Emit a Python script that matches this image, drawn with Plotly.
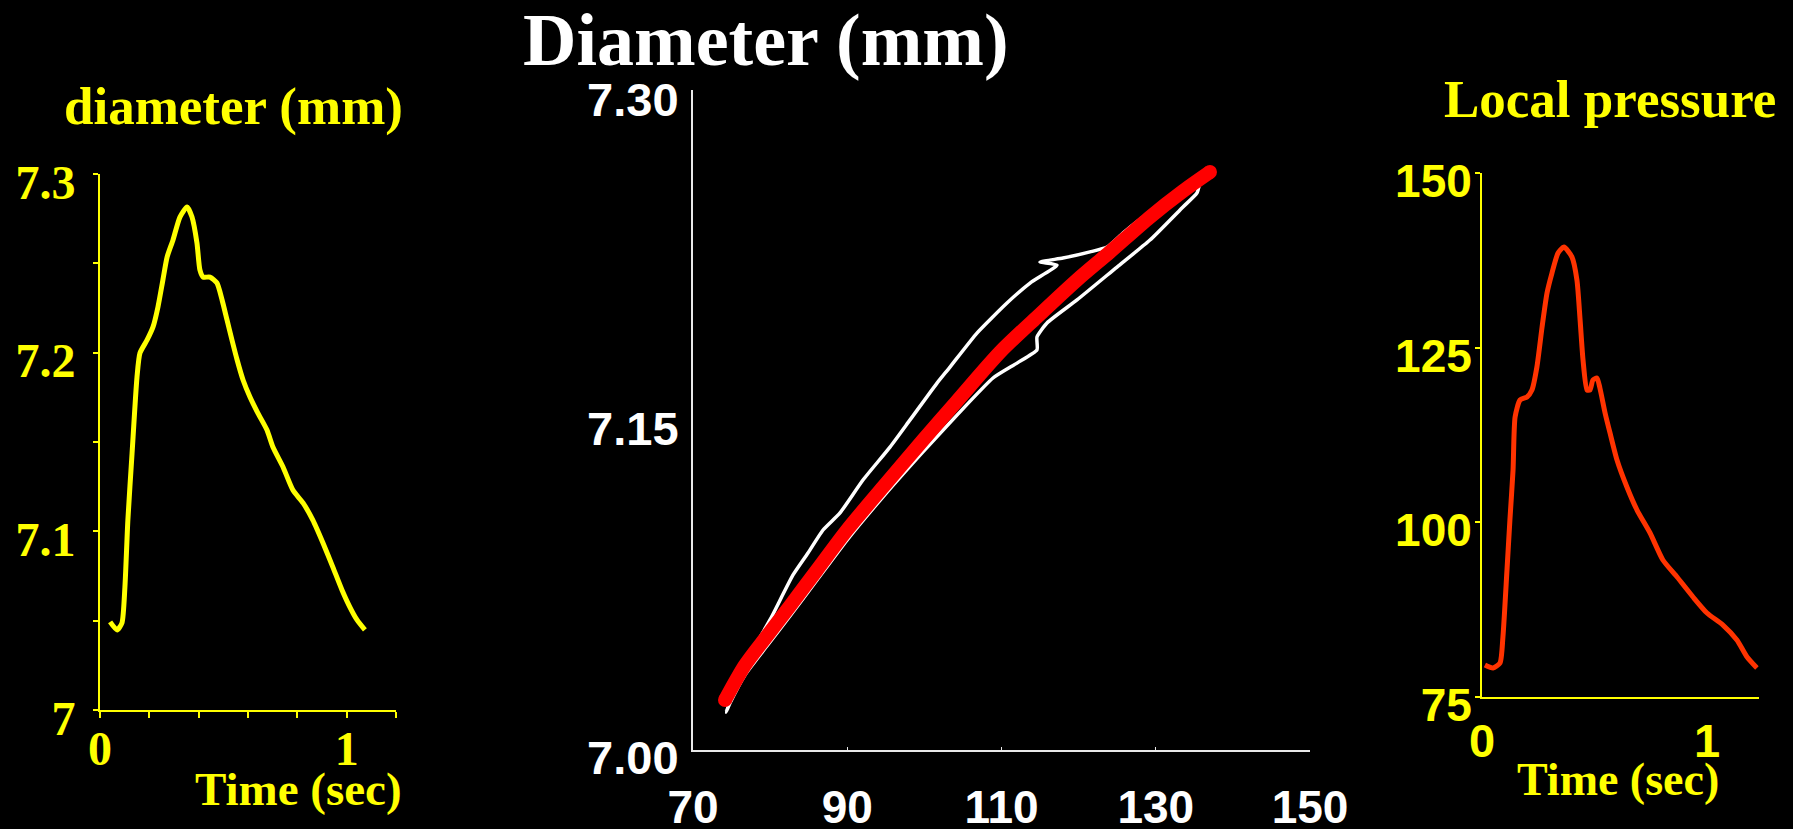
import plotly.graph_objects as go

W, H = 1793, 829

# ---------------- data ----------------
# Left panel: diameter (mm) vs time (sec)
left_t = [0.041, 0.069, 0.089, 0.101, 0.113, 0.130, 0.150, 0.162, 0.191, 0.215, 0.235, 0.255,
          0.272, 0.296, 0.324, 0.353, 0.373, 0.393, 0.405, 0.418, 0.446, 0.474, 0.495, 0.515,
          0.535, 0.556, 0.580, 0.608, 0.640, 0.677, 0.701, 0.742, 0.782, 0.823, 0.863, 0.904,
          0.944, 0.981, 1.013, 1.042, 1.074]
left_d = [7.0493, 7.0448, 7.0487, 7.0688, 7.1063, 7.1438, 7.1864, 7.1998, 7.2071, 7.2144, 7.2256,
          7.2407, 7.2535, 7.2631, 7.2759, 7.2815, 7.2759, 7.2614, 7.2463, 7.2423, 7.2423, 7.2390,
          7.2295, 7.2183, 7.2071, 7.1959, 7.1847, 7.1752, 7.1662, 7.1567, 7.1472, 7.1360, 7.1231,
          7.1159, 7.1063, 7.0935, 7.0800, 7.0672, 7.0576, 7.0504, 7.0448]

# Middle panel: diameter vs pressure, measured loop (white) and fit (red)
loop_p = [74.28, 75.45, 77.00, 79.98, 82.97, 84.91, 86.86, 89.06, 92.04, 95.54, 98.14, 101.64,
          103.32, 106.82, 110.71, 113.70, 117.20, 114.99, 117.97, 121.47, 123.68, 125.75, 129.25,
          133.53, 135.70, 135.35, 133.53, 129.25, 124.98, 119.79, 115.90, 114.60, 114.60, 112.01,
          108.90, 104.23, 99.82, 94.64, 89.97, 86.08, 82.58, 79.59, 76.74, 74.80, 74.28]
loop_d = [7.0173, 7.0283, 7.0410, 7.0593, 7.0798, 7.0898, 7.1003, 7.1081, 7.1231, 7.1381, 7.1505,
          7.1673, 7.1746, 7.1901, 7.2038, 7.2129, 7.2211, 7.2225, 7.2243, 7.2271, 7.2293, 7.2357,
          7.2453, 7.2553, 7.2599, 7.2540, 7.2476, 7.2325, 7.2202, 7.2052, 7.1947, 7.1883, 7.1824,
          7.1764, 7.1696, 7.1527, 7.1359, 7.1154, 7.0957, 7.0775, 7.0611, 7.0474, 7.0342, 7.0214,
          7.0173]
fit_p = [74.15, 76.74, 79.59, 82.58, 86.08, 89.97, 94.64, 99.82, 104.23, 109.81, 114.60, 119.79,
         124.07, 129.25, 133.53, 137.03]
fit_d = [7.0228, 7.0387, 7.0520, 7.0657, 7.0821, 7.1003, 7.1199, 7.1413, 7.1591, 7.1814, 7.1974,
         7.2143, 7.2271, 7.2430, 7.2548, 7.2635]

# Right panel: local pressure vs time (sec)
right_t = [0.013, 0.049, 0.080, 0.093, 0.111, 0.124, 0.138, 0.147, 0.169, 0.200, 0.222, 0.244,
           0.267, 0.289, 0.311, 0.338, 0.364, 0.400, 0.422, 0.436, 0.449, 0.467, 0.480, 0.493,
           0.511, 0.524, 0.547, 0.569, 0.600, 0.644, 0.689, 0.747, 0.804, 0.867, 0.938, 1.000,
           1.071, 1.133, 1.178, 1.222]
right_p = [79.58, 79.15, 79.87, 83.59, 93.18, 100.33, 107.49, 115.07, 117.51, 117.94, 118.94,
           122.23, 127.96, 132.82, 135.68, 138.55, 139.40, 137.97, 134.68, 128.96, 123.23, 118.94,
           118.94, 120.37, 120.66, 119.23, 115.65, 112.79, 108.92, 105.06, 101.76, 98.47, 94.61,
           92.17, 89.31, 87.02, 85.30, 83.16, 80.73, 79.15]

# tick labels
left_xvals = [0, 0.2, 0.4, 0.6, 0.8, 1.0, 1.2]
left_xtext = ["0", "", "", "", "", "1", ""]
left_yvals = [7.0, 7.1, 7.2, 7.3]
left_ytext = ["7", "7.1", "7.2", "7.3"]
left_yminor = [7.05, 7.15, 7.25]
mid_xvals = [70, 90, 110, 130, 150]
mid_xtext = ["70", "90", "110", "130", "150"]
mid_yvals = [7.00, 7.15, 7.30]
mid_ytext = ["7.00", "7.15", "7.30"]
right_xvals = [0, 1]
right_xtext = ["0", "1"]
right_yvals = [75, 100, 125, 150]
right_ytext = ["75", "100", "125", "150"]

YELLOW = "#FFFF00"
RED = "#FF0000"
ORANGE = "#FF3300"
SERIF = "Liberation Serif, Times New Roman, serif"
SANS = "Liberation Sans, Arial, sans-serif"


def fx(px):
    return px / W


def fy(py):
    return 1 - py / H


fig = go.Figure()

fig.add_trace(go.Scatter(x=left_t, y=left_d, mode="lines",
                         line=dict(color=YELLOW, width=5, shape="spline", smoothing=0.6),
                         xaxis="x", yaxis="y"))
fig.add_trace(go.Scatter(x=loop_p, y=loop_d, mode="lines",
                         line=dict(color="white", width=3.5, shape="spline", smoothing=0.5),
                         xaxis="x2", yaxis="y2"))
fig.add_trace(go.Scatter(x=fit_p, y=fit_d, mode="lines",
                         line=dict(color=RED, width=14, shape="spline", smoothing=0.8),
                         xaxis="x2", yaxis="y2"))
fig.add_trace(go.Scatter(x=[fit_p[0], fit_p[-1]], y=[fit_d[0], fit_d[-1]], mode="markers",
                         marker=dict(color=RED, size=14), xaxis="x2", yaxis="y2"))
fig.add_trace(go.Scatter(x=right_t, y=right_p, mode="lines",
                         line=dict(color=ORANGE, width=5, shape="spline", smoothing=0.6),
                         xaxis="x3", yaxis="y3"))

common = dict(showgrid=False, zeroline=False, showline=True, linewidth=2, fixedrange=True,
              automargin=False)

fig.update_layout(
    width=W, height=H, margin=dict(l=0, r=0, t=0, b=0, autoexpand=False),
    paper_bgcolor="black", plot_bgcolor="black", showlegend=False,
    xaxis=dict(domain=[fx(100), fx(396)], range=[0, 1.2], anchor="y", linecolor=YELLOW,
               tickmode="array", tickvals=left_xvals, ticktext=left_xtext,
               ticks="outside", ticklen=6, tickwidth=2, tickcolor=YELLOW,
               ticklabelstandoff=-11,
               tickfont=dict(family=SERIF, size=48, color=YELLOW, weight="bold"), **common),
    yaxis=dict(domain=[fy(710), fy(174)], range=[7.0, 7.3], anchor="x", linecolor=YELLOW,
               tickmode="array", tickvals=left_yvals, ticktext=left_ytext,
               ticks="outside", ticklen=5, tickwidth=2, tickcolor=YELLOW,
               minor=dict(tickmode="array", tickvals=left_yminor, ticks="outside", ticklen=5,
                          tickwidth=2, tickcolor=YELLOW, showgrid=False),
               ticklabelstandoff=8, ticklabelshift=8,
               tickfont=dict(family=SERIF, size=48, color=YELLOW, weight="bold"), **common),
    xaxis2=dict(domain=[fx(693), fx(1310)], range=[70, 150], anchor="y2", linecolor="#E8E8E8",
                tickmode="array", tickvals=mid_xvals, ticktext=mid_xtext,
                ticks="inside", ticklen=3, tickwidth=1, tickcolor="#E8E8E8",
                ticklabelstandoff=16,
                tickfont=dict(family=SANS, size=46, color="white", weight="bold"), **common),
    yaxis2=dict(domain=[fy(750), fy(90)], range=[7.0, 7.3 + 0.3 * 2 / 658], anchor="x2",
                linecolor="#E8E8E8",
                tickmode="array", tickvals=mid_yvals, ticktext=mid_ytext, ticks="",
                ticklabelstandoff=3, ticklabelshift=8,
                tickfont=dict(family=SANS, size=47, color="white", weight="bold"), **common),
    xaxis3=dict(domain=[fx(1482), fx(1482 + 1.23 * 225)], range=[0, 1.23], anchor="y3",
                linecolor=YELLOW, tickmode="array", tickvals=right_xvals, ticktext=right_xtext,
                ticks="", ticklabelstandoff=2,
                tickfont=dict(family=SANS, size=47, color=YELLOW, weight="bold"), **common),
    yaxis3=dict(domain=[fy(697), fy(173)], range=[75, 150], anchor="x3", linecolor=YELLOW,
                tickmode="array", tickvals=right_yvals, ticktext=right_ytext,
                ticks="outside", ticklen=5, tickwidth=2, tickcolor=YELLOW,
                ticklabelstandoff=-6, ticklabelshift=8,
                tickfont=dict(family=SANS, size=46, color=YELLOW, weight="bold"), **common),
)

annots = [
    ("Diameter (mm)", 766, 40, 74, "white"),
    ("diameter (mm)", 233, 106, 53, YELLOW),
    ("Local pressure", 1610, 99, 53, YELLOW),
    ("Time (sec)", 298, 789, 47, YELLOW),
    ("Time (sec)", 1618, 779, 46, YELLOW),
]
for text, cx, cy, size, color in annots:
    fig.add_annotation(text=text, x=fx(cx), y=fy(cy), xref="paper", yref="paper",
                       xanchor="center", yanchor="middle", showarrow=False,
                       font=dict(family=SERIF, size=size, color=color, weight="bold"))

fig.write_html("out.html")
